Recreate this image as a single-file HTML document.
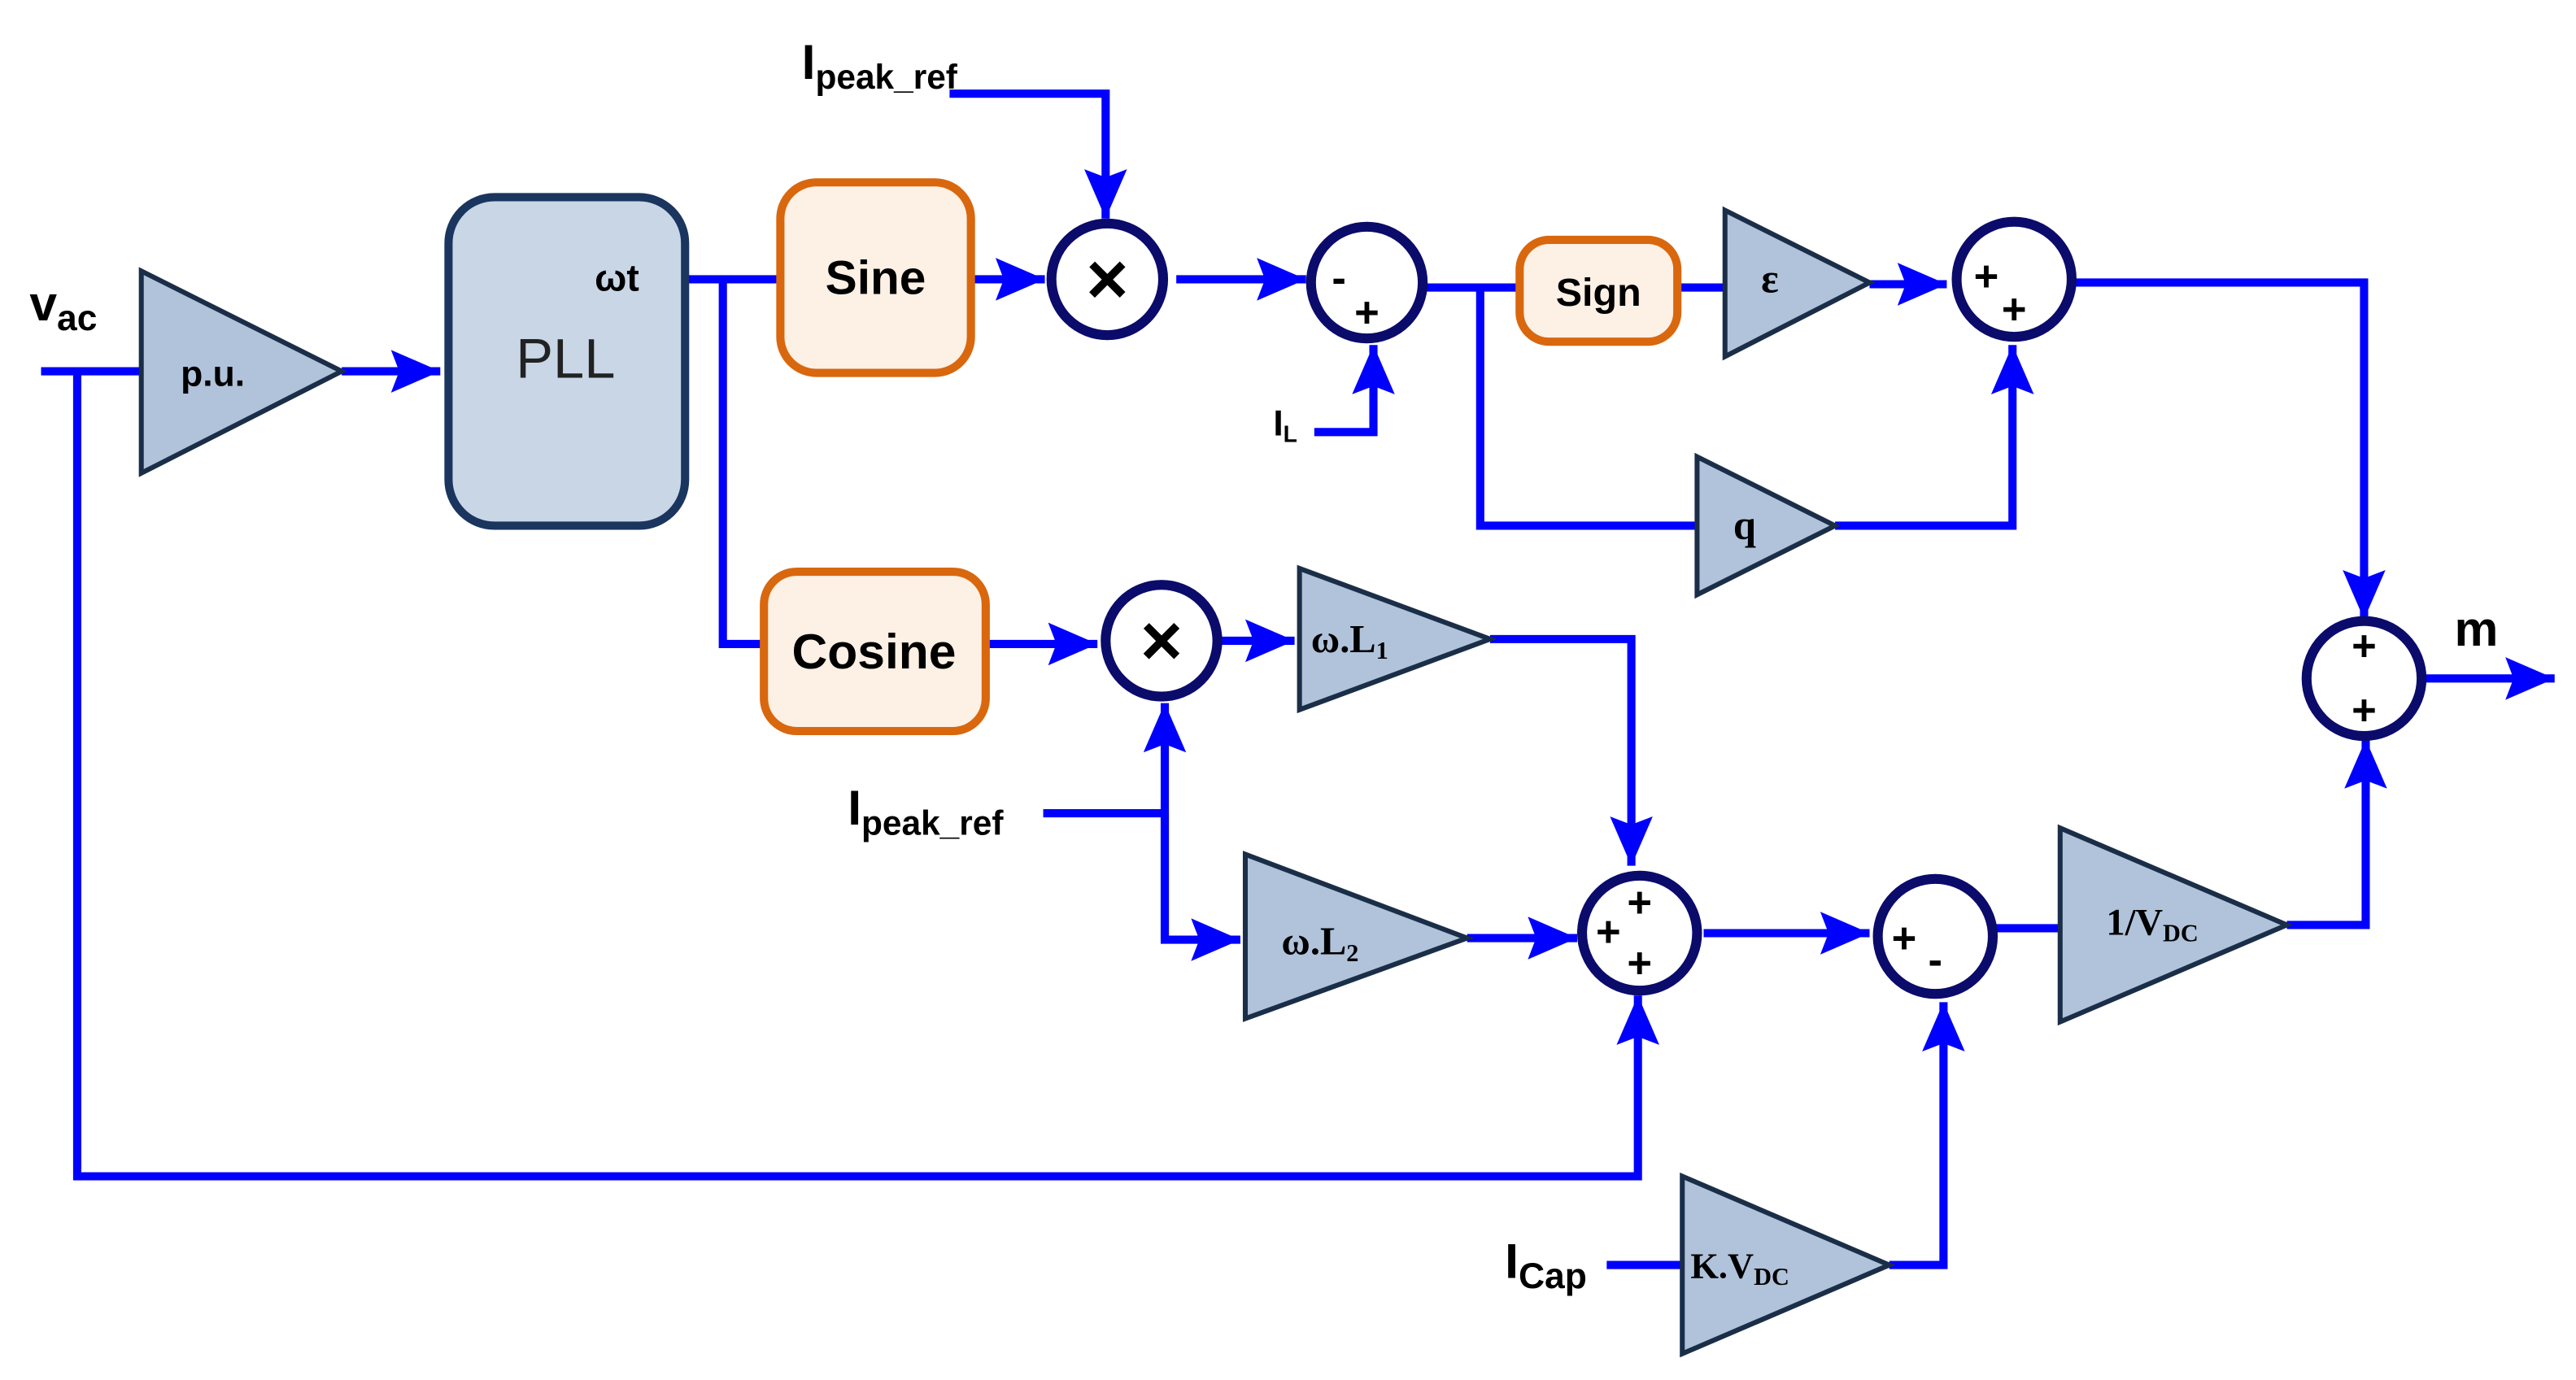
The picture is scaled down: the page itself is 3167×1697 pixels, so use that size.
<!DOCTYPE html>
<html><head><meta charset="utf-8"><style>
html,body{margin:0;padding:0;background:#fff;}
svg{display:block;}
.w{stroke:#0000ff;stroke-width:5;fill:none;stroke-linejoin:miter;}
.tri{fill:#b0c3db;stroke:#1a2e48;stroke-width:3;}
.c{fill:#fff;stroke:#0b0b6b;stroke-width:6;}
.ob{fill:#fdf0e5;stroke:#d9670e;stroke-width:5;}
.s{font-family:"Liberation Sans",sans-serif;font-weight:bold;fill:#000;}
.sr{font-family:"Liberation Serif",serif;font-weight:bold;fill:#000;}
.pm{font-family:"Liberation Sans",sans-serif;font-weight:bold;fill:#000;font-size:26px;text-anchor:middle;}
</style></head><body>
<svg width="3167" height="1697" viewBox="0 0 1568 840" preserveAspectRatio="none" xmlns="http://www.w3.org/2000/svg">
<defs>
<marker id="a" markerUnits="userSpaceOnUse" markerWidth="32" markerHeight="26" refX="30" refY="13" orient="auto">
<path d="M0,0 L30,13 L0,26 L5,13 z" fill="#0000ff"/>
</marker>
</defs>

<path class="w" d="M25,226 H86"/>
<path class="w" d="M47,226 V716 H997 V606" marker-end="url(#a)"/>
<path class="w" d="M208,226 H268" marker-end="url(#a)"/>
<path class="w" d="M417,170 H475"/>
<path class="w" d="M440,170 V392 H465"/>
<path class="w" d="M591,170 H636" marker-end="url(#a)"/>
<path class="w" d="M578,57 H673 V133" marker-end="url(#a)"/>
<path class="w" d="M716,170 H795" marker-end="url(#a)"/>
<path class="w" d="M800,263 H836 V210" marker-end="url(#a)"/>
<path class="w" d="M868,175 H925"/>
<path class="w" d="M1021,175 H1050"/>
<path class="w" d="M901,175 V320 H1033"/>
<path class="w" d="M1117,320 H1225 V210" marker-end="url(#a)"/>
<path class="w" d="M1138,173 H1185" marker-end="url(#a)"/>
<path class="w" d="M1262,172 H1439 V377" marker-end="url(#a)"/>
<path class="w" d="M1476,413 H1555" marker-end="url(#a)"/>
<path class="w" d="M600,392 H668" marker-end="url(#a)"/>
<path class="w" d="M742,390 H788" marker-end="url(#a)"/>
<path class="w" d="M907,389 H993 V527" marker-end="url(#a)"/>
<path class="w" d="M635,495 H709"/>
<path class="w" d="M709,572 V428" marker-end="url(#a)"/>
<path class="w" d="M709,495 V572 H755" marker-end="url(#a)"/>
<path class="w" d="M893,571 H960" marker-end="url(#a)"/>
<path class="w" d="M1037,568 H1138" marker-end="url(#a)"/>
<path class="w" d="M1213,565 H1254"/>
<path class="w" d="M1392,563 H1440 V450" marker-end="url(#a)"/>
<path class="w" d="M978,770 H1024"/>
<path class="w" d="M1150,770 H1183 V610" marker-end="url(#a)"/>

<polygon class="tri" points="86,165 86,288 208,226"/>
<text class="s" x="110" y="235" font-size="22">p.u.</text>

<rect x="273" y="120" width="144" height="200" rx="28" fill="#c8d6e6" stroke="#1a355e" stroke-width="5"/>
<text x="314" y="230" font-family="Liberation Sans,sans-serif" font-size="34" fill="#222">PLL</text>
<text class="s" x="362" y="177" font-size="23">ωt</text>

<rect class="ob" x="475" y="111" width="116" height="116" rx="22"/>
<text class="s" x="533" y="179" font-size="29" text-anchor="middle" fill="#222">Sine</text>
<rect class="ob" x="465" y="348" width="135" height="97" rx="20"/>
<text class="s" x="532" y="407" font-size="30" text-anchor="middle" fill="#222">Cosine</text>
<rect class="ob" x="925" y="146" width="96" height="62" rx="18"/>
<text class="s" x="973" y="186" font-size="24" text-anchor="middle" fill="#222">Sign</text>

<polygon class="tri" points="1050,128 1050,217 1138,172"/>
<text class="sr" x="1072" y="178" font-size="25">ε</text>
<polygon class="tri" points="1033,278 1033,362 1117,320"/>
<text class="sr" x="1055" y="328" font-size="25">q</text>
<polygon class="tri" points="791,346 791,432 907,389"/>
<text class="sr" x="798" y="397" font-size="24">ω.L<tspan font-size="15" dy="4">1</tspan></text>
<polygon class="tri" points="758,520 758,620 893,571"/>
<text class="sr" x="780" y="581" font-size="24">ω.L<tspan font-size="15" dy="4">2</tspan></text>
<polygon class="tri" points="1254,504 1254,622 1392,563"/>
<text class="sr" x="1282" y="569" font-size="23">1/V<tspan font-size="15" dy="4">DC</tspan></text>
<polygon class="tri" points="1024,716 1024,824 1150,770"/>
<text class="sr" x="1029" y="778" font-size="22">K.V<tspan font-size="15" dy="4">DC</tspan></text>

<circle class="c" cx="674" cy="170" r="34"/>
<text class="s" x="674" y="185" font-size="44" text-anchor="middle" fill="#0b0b6b">×</text>
<circle class="c" cx="707" cy="390" r="34"/>
<text class="s" x="707" y="405" font-size="44" text-anchor="middle" fill="#0b0b6b">×</text>
<circle class="c" cx="832" cy="172" r="34"/>
<text class="pm" x="815" y="178">-</text><text class="pm" x="832" y="199">+</text>
<circle class="c" cx="1226" cy="170" r="35"/>
<text class="pm" x="1209" y="177">+</text><text class="pm" x="1226" y="197">+</text>
<circle class="c" cx="1439" cy="413" r="35"/>
<text class="pm" x="1439" y="402">+</text><text class="pm" x="1439" y="441">+</text>
<circle class="c" cx="998" cy="568" r="35"/>
<text class="pm" x="998" y="558">+</text><text class="pm" x="979" y="576">+</text><text class="pm" x="998" y="595">+</text>
<circle class="c" cx="1178" cy="570" r="35"/>
<text class="pm" x="1159" y="580">+</text><text class="pm" x="1178" y="593">-</text>

<text class="s" x="18" y="195" font-size="30">v<tspan font-size="22" dy="6">ac</tspan></text>
<text class="s" x="488" y="48" font-size="30">I<tspan font-size="21" dy="6">peak_ref</tspan></text>
<text class="s" x="516" y="502" font-size="30">I<tspan font-size="21" dy="6">peak_ref</tspan></text>
<text class="s" x="775" y="265" font-size="22">I<tspan font-size="14" dy="4">L</tspan></text>
<text class="s" x="916" y="778" font-size="30">I<tspan font-size="22" dy="6">Cap</tspan></text>
<text class="s" x="1494" y="393" font-size="30">m</text>
</svg>
</body></html>
